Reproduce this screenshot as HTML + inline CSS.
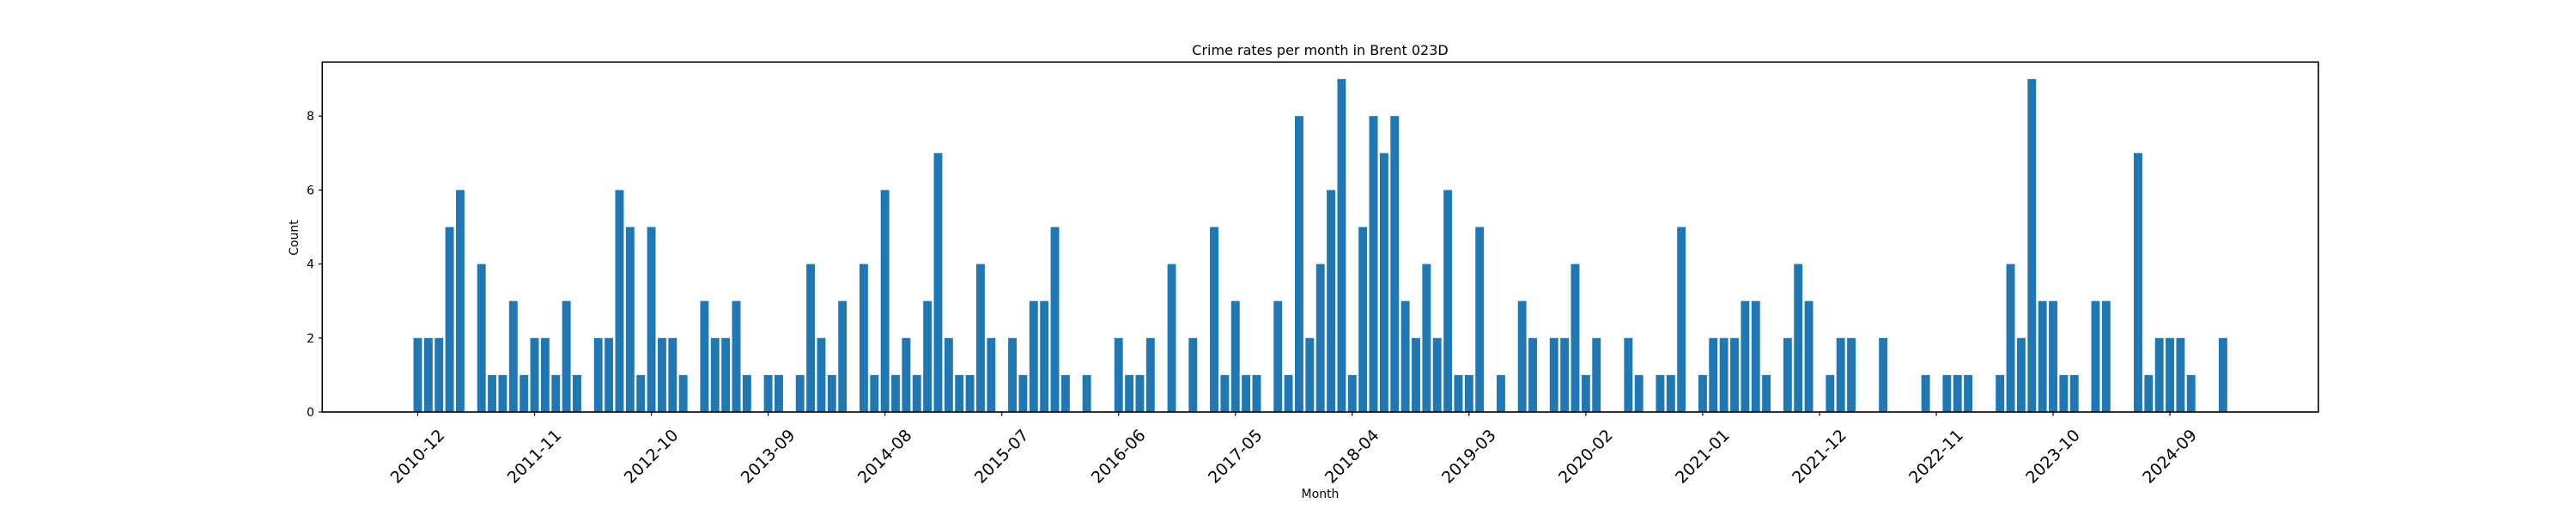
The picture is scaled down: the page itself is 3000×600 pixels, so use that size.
<!DOCTYPE html>
<html><head><meta charset="utf-8"><style>
html,body{margin:0;padding:0;background:#fff;}
svg{display:block;font-family:"DejaVu Sans","Liberation Sans",sans-serif;}
</style></head><body>
<svg id="chart" width="3000" height="600" viewBox="0 0 3000 600" xmlns="http://www.w3.org/2000/svg">
<rect width="3000" height="600" fill="#fff"/>
<text x="1537.5" y="64" text-anchor="middle" font-size="16">Crime rates per month in Brent 023D</text>
<text x="0" y="0" transform="translate(347,277) rotate(-90)" text-anchor="middle" font-size="14">Count</text>
<text x="1537.5" y="580" text-anchor="middle" font-size="14">Month</text>
<g id="bars"></g>
<g id="yticks"></g>
<g id="xticks"></g>
<rect x="375.3" y="72.3" width="2324.7" height="407.7" fill="none" stroke="#000" stroke-width="1.6"/>
</svg>
<script>
const startYear = 2010, startMonth = 12;
const counts = [2,2,2,5,6,0,4,1,1,3,1,2,2,1,3,1,0,2,2,6,5,1,5,2,2,1,0,3,2,2,3,1,0,1,1,0,1,4,2,1,3,0,4,1,6,1,2,1,3,7,2,1,1,4,2,
0,2,1,3,3,5,1,0,1,0,0,2,1,1,2,0,4,0,2,0,5,1,3,1,1,0,3,1,8,2,4,6,9,1,5,8,7,8,3,2,4,2,6,1,1,5,0,1,0,3,2,0,2,2,4,1,2,0,0,2,1,0,1,1,
5,0,1,2,2,2,3,3,1,0,2,4,3,0,1,2,2,0,0,2,0,0,0,1,0,1,1,1,0,0,1,4,2,9,3,3,1,1,0,3,3,0,0,7,1,2,2,2,1,0,0,2];
const yTicks = [0,2,4,6,8];
const tickEvery = 11;

const NS = "http://www.w3.org/2000/svg";
const x0 = 486.5, step = 12.367, barW = 9.9;
const yZero = 480, yUnit = 43.1;
function xPos(i){ return x0 + i*step; }
function yPos(v){ return yZero - v*yUnit; }
function monthLabel(i){
  const t = (startYear*12 + startMonth - 1) + i;
  const y = Math.floor(t/12), m = t%12 + 1;
  return y + "-" + (m<10?"0":"") + m;
}
const bars = document.getElementById("bars");
counts.forEach((v,i)=>{
  const r = document.createElementNS(NS,"rect");
  
  
  r.setAttribute("x", xPos(i)-barW/2);
  r.setAttribute("y", yPos(v));
  r.setAttribute("width", barW);
  r.setAttribute("height", yZero - yPos(v));
  r.setAttribute("fill", "#1f77b4");
  bars.appendChild(r);
});
const yg = document.getElementById("yticks");
yTicks.forEach(v=>{
  const l = document.createElementNS(NS,"line");
  
  
  l.setAttribute("x1", 371); l.setAttribute("x2", 375.3);
  l.setAttribute("y1", yPos(v)); l.setAttribute("y2", yPos(v));
  l.setAttribute("stroke", "#000"); l.setAttribute("stroke-width", "1.2");
  yg.appendChild(l);
  const t = document.createElementNS(NS,"text");
  
  
  t.setAttribute("x", 366); t.setAttribute("y", yPos(v)+5);
  t.setAttribute("text-anchor", "end"); t.setAttribute("font-size", "14");
  t.textContent = v;
  yg.appendChild(t);
});
const xg = document.getElementById("xticks");
for(let i=0;i<counts.length;i+=tickEvery){
  const x = xPos(i);
  const l = document.createElementNS(NS,"line");
  
  
  l.setAttribute("x1", x); l.setAttribute("x2", x);
  l.setAttribute("y1", 480); l.setAttribute("y2", 484.5);
  l.setAttribute("stroke", "#000"); l.setAttribute("stroke-width", "1.2");
  xg.appendChild(l);
  const t = document.createElementNS(NS,"text");
  
  
  t.setAttribute("x", 0); t.setAttribute("y", 0);
  t.setAttribute("transform", "translate(" + x + ",532) rotate(-45)");
  t.setAttribute("text-anchor", "middle"); t.setAttribute("dominant-baseline", "central");
  t.setAttribute("font-size", "19");
  t.textContent = monthLabel(i);
  xg.appendChild(t);
}
</script>
</body></html>
